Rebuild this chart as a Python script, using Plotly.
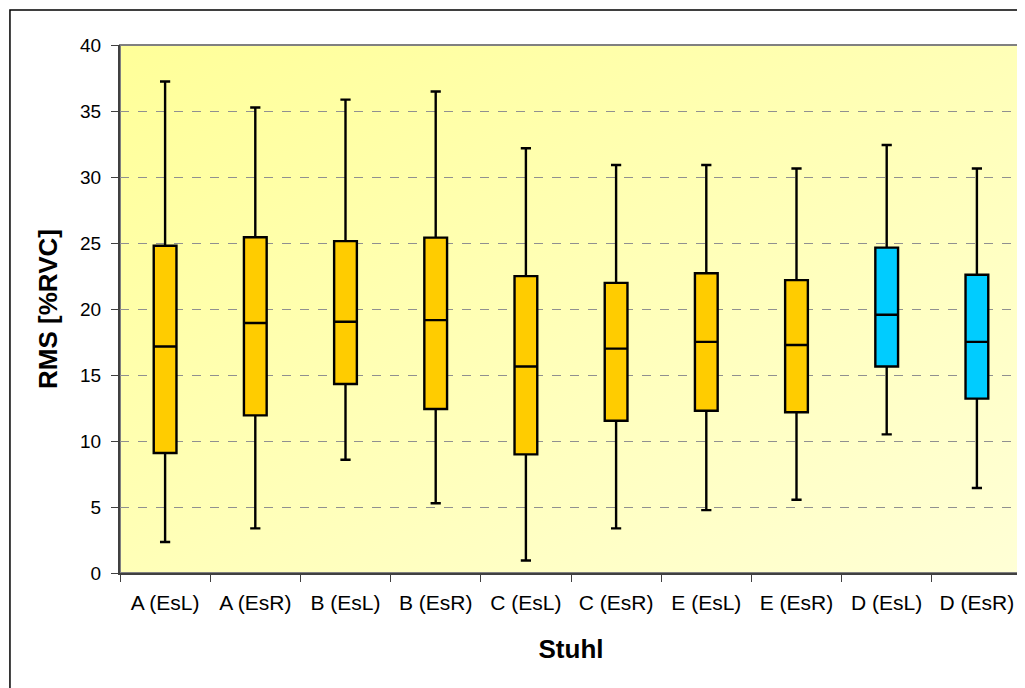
import base64
import plotly.graph_objects as go

categories = ["A (EsL)", "A (EsR)", "B (EsL)", "B (EsR)", "C (EsL)",
              "C (EsR)", "E (EsL)", "E (EsR)", "D (EsL)", "D (EsR)"]
lower = [2.35, 3.38, 8.58, 5.28, 0.95, 3.38, 4.76, 5.55, 10.50, 6.44]
q1 = [9.09, 11.94, 14.32, 12.42, 8.99, 11.53, 12.29, 12.18, 15.64, 13.21]
median = [17.16, 18.94, 19.03, 19.16, 15.64, 17.0, 17.51, 17.27, 19.57, 17.51]
q3 = [24.79, 25.44, 25.14, 25.41, 22.49, 21.98, 22.71, 22.19, 24.65, 22.60]
upper = [37.24, 35.26, 35.86, 36.48, 32.18, 30.91, 30.91, 30.64, 32.42, 30.64]
groups = ["gold"] * 8 + ["cyan"] * 2
y_ticks = [0, 5, 10, 15, 20, 25, 30, 35, 40]

colors = {"gold": "#FFCC00", "cyan": "#00CCFF"}

fig = go.Figure()
for g in ["gold", "cyan"]:
    idx = [i for i, gg in enumerate(groups) if gg == g]
    fig.add_trace(go.Box(
        x=[categories[i] for i in idx],
        q1=[q1[i] for i in idx],
        median=[median[i] for i in idx],
        q3=[q3[i] for i in idx],
        lowerfence=[lower[i] for i in idx],
        upperfence=[upper[i] for i in idx],
        fillcolor=colors[g],
        line=dict(color="black", width=2.4),
        whiskerwidth=0.45,
        boxpoints=False,
        hoverinfo="y",
        showlegend=False,
    ))

svg = ('<svg xmlns="http://www.w3.org/2000/svg" width="100" height="100" preserveAspectRatio="none">'
       '<defs><linearGradient id="g" x1="0" y1="0" x2="1" y2="1">'
       '<stop offset="0" stop-color="#FFFF99"/><stop offset="1" stop-color="#FFFFD6"/>'
       '</linearGradient></defs><rect width="100" height="100" fill="url(#g)"/></svg>')
src = "data:image/svg+xml;base64," + base64.b64encode(svg.encode()).decode()

fig.update_layout(
    width=1017, height=680,
    margin=dict(l=112, r=3, t=37, b=115),
    paper_bgcolor="white",
    plot_bgcolor="rgba(0,0,0,0)",
    boxmode="overlay",
    boxgap=0.64,
    font=dict(family="Liberation Sans, Arial, sans-serif", color="black", size=19),
    images=[dict(source=src, xref="paper", yref="paper", x=0, y=1, sizex=1, sizey=1,
                 sizing="stretch", layer="below", xanchor="left", yanchor="top")],
    shapes=[
        dict(type="rect", xref="paper", yref="paper", x0=-0.122, x1=1.2, y0=-0.3, y1=1.0663,
             line=dict(color="black", width=1.5), layer="below"),
        dict(type="rect", xref="paper", yref="paper", x0=0, x1=1, y0=0, y1=1,
             line=dict(color="#808080", width=2), layer="below"),
    ],
    xaxis=dict(
        categoryorder="array", categoryarray=categories,
        showline=True, linecolor="#404040", linewidth=2,
        ticks="outside", tickson="boundaries", ticklen=7, tickcolor="#404040",
        showgrid=False, zeroline=False,
        tickfont=dict(size=21),
        ticklabelstandoff=10,
        title=dict(text="<b>Stuhl</b>", font=dict(size=26), standoff=27),
    ),
    yaxis=dict(
        range=[0, 40], tickvals=y_ticks,
        showline=True, linecolor="#404040", linewidth=2,
        ticks="outside", ticklen=7, tickcolor="#404040",
        showgrid=True, gridcolor="#909090", griddash="dash", gridwidth=1,
        zeroline=False,
        tickfont=dict(size=19),
        ticklabelstandoff=6,
        title=dict(text="<b>RMS [%RVC]</b>", font=dict(size=26), standoff=15),
    ),
)

fig.write_html("out.html")
